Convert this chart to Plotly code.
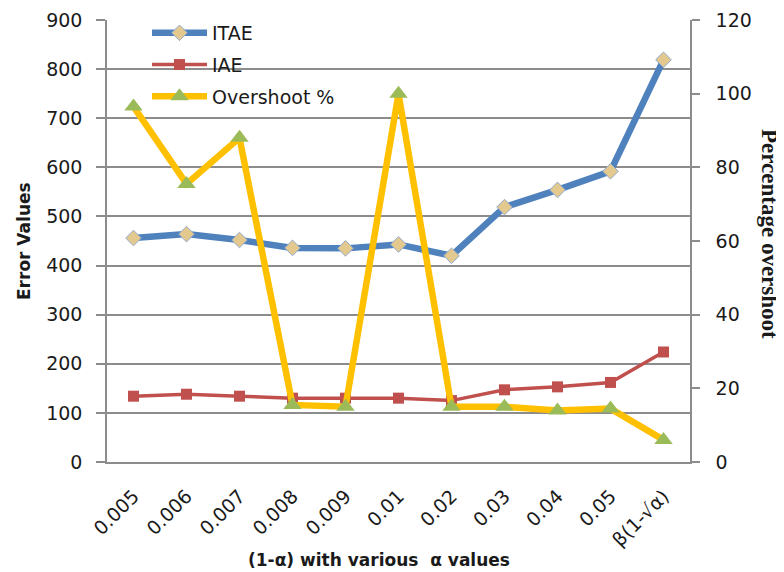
import plotly.graph_objects as go

# data
categories = ["0.005", "0.006", "0.007", "0.008", "0.009", "0.01",
              "0.02", "0.03", "0.04", "0.05", "β(1-√α)"]
itae = [456, 464, 452, 436, 435, 443, 420, 519, 554, 592, 819]
iae = [134, 138, 134, 130, 130, 130, 125, 147, 153, 162, 224]
overshoot = [96.5, 75.5, 88, 15.5, 15, 100, 15, 15, 14, 14.5, 6]

left_ticks = list(range(0, 901, 100))
right_ticks = list(range(0, 121, 20))

FONT = "'DejaVu Sans', sans-serif"
GRID = "#8c8c8c"
TXT = "#1a1a1a"

fig = go.Figure()

fig.add_trace(go.Scatter(
    x=categories, y=itae, name="ITAE", mode="lines+markers",
    legendgroup="a",
    line=dict(color="#4F81BD", width=6.5),
    marker=dict(symbol="diamond", size=12, color="#E3C98E",
                line=dict(color="#8FA9CF", width=1)),
))
fig.add_trace(go.Scatter(
    x=categories, y=iae, name="IAE", mode="lines+markers",
    legendgroup="b",
    line=dict(color="#C0504D", width=3.5),
    marker=dict(symbol="square", size=11, color="#C0504D"),
))
fig.add_trace(go.Scatter(
    x=categories, y=overshoot, name="Overshoot %", mode="lines+markers",
    legendgroup="c", yaxis="y2",
    line=dict(color="#FFC000", width=6.5),
    marker=dict(symbol="triangle-up", size=16, color="#9BBB59"),
))

# the page body adds an 8px offset, so the figure is 8px smaller than the window
fig.update_layout(
    width=776, height=564,
    margin=dict(l=99, r=94, t=12, b=110, autoexpand=False),
    paper_bgcolor="white", plot_bgcolor="white",
    font=dict(family=FONT, size=19, color=TXT),
    showlegend=True,
    legend=dict(x=0.0686, y=1.0136, xanchor="left", yanchor="top",
                bgcolor="rgba(0,0,0,0)", font=dict(size=19, color=TXT),
                traceorder="grouped", tracegroupgap=4, itemwidth=55),
    xaxis=dict(
        type="category", range=[-0.5, 10.5], automargin=False,
        tickangle=-45, showgrid=False,
        showline=True, linecolor=GRID, linewidth=1.5,
        ticks="", ticklabelstandoff=14, tickfont=dict(size=19),
    ),
    yaxis=dict(
        range=[0, 900], tickvals=left_ticks, automargin=False,
        showgrid=True, gridcolor=GRID, gridwidth=1.5, zeroline=False,
        showline=True, linecolor=GRID, linewidth=1.5,
        ticks="outside", ticklen=9, tickcolor=GRID, tickwidth=1.5,
        ticklabelstandoff=10, tickfont=dict(size=19),
    ),
    yaxis2=dict(
        range=[0, 120], tickvals=right_ticks, overlaying="y", side="right",
        automargin=False, showgrid=False, zeroline=False,
        showline=True, linecolor=GRID, linewidth=1.5,
        ticks="outside", ticklen=8, tickcolor=GRID, tickwidth=1.5,
        ticklabelstandoff=12, tickfont=dict(size=19),
    ),
)

# axis titles as annotations so they sit where the reference has them
fig.add_annotation(
    text="<b>Error Values</b>", textangle=-90,
    xref="paper", yref="paper", x=0, y=0.5, xanchor="center", yanchor="middle",
    xshift=-83, showarrow=False, font=dict(size=17, color=TXT),
)
fig.add_annotation(
    text="<b>(1-α) with various  α values</b>",
    xref="paper", yref="paper", x=0.5, y=0, xanchor="center", yanchor="middle",
    xshift=-20, yshift=-98, showarrow=False, font=dict(size=17, color=TXT),
)
fig.add_annotation(
    text="<b>Percentage overshoot</b>", textangle=90,
    xref="paper", yref="paper", x=1.0, y=0.5, xanchor="center", yanchor="middle",
    xshift=80, yshift=7, showarrow=False,
    font=dict(family="'Liberation Serif', 'DejaVu Serif', serif", size=23, color=TXT),
)

fig.write_html("out.html")
